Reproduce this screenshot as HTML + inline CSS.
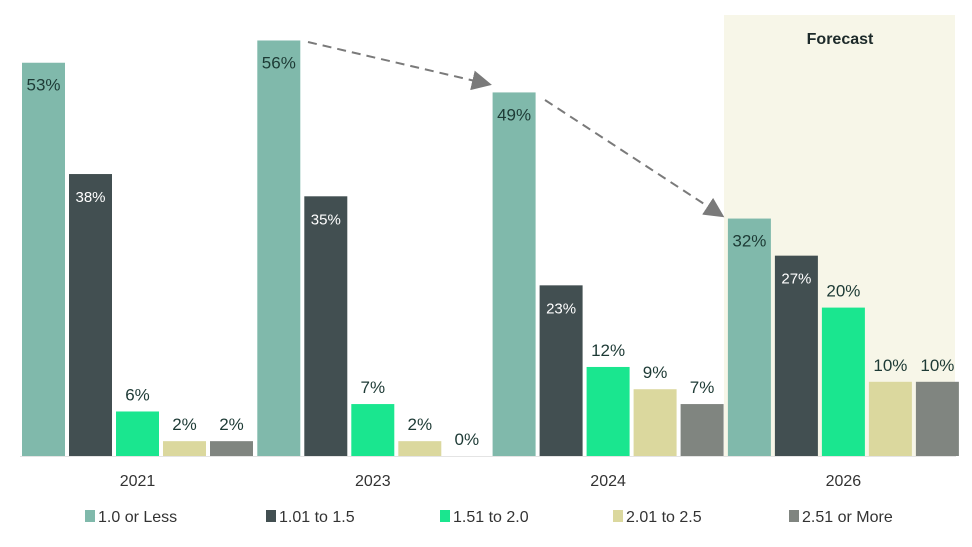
<!DOCTYPE html>
<html><head><meta charset="utf-8"><style>
body{margin:0;background:#fff;font-family:"Liberation Sans",sans-serif;}
svg text{font-family:"Liberation Sans",sans-serif;}
</style></head><body>
<svg id="chart" width="972" height="542" xmlns="http://www.w3.org/2000/svg">
<defs><marker id="ah" markerWidth="10" markerHeight="10" refX="8" refY="5" orient="auto"><path d="M0,0 L10,5 L0,10 z" fill="#7a7a7a"/></marker></defs>
<rect x="724" y="15" width="231" height="441" fill="#f7f6e8"/>
<text x="840" y="44" text-anchor="middle" font-size="16" font-weight="bold" fill="#1d2a2a">Forecast</text>
<line x1="20" y1="456.5" x2="956" y2="456.5" stroke="#e4e4e4" stroke-width="1"/>
<g id="bars"></g>
<line x1="308" y1="42" x2="488" y2="84" stroke="#7a7a7a" stroke-width="2" stroke-dasharray="9,6" marker-end="url(#ah)"/>
<line x1="545" y1="100" x2="721" y2="215" stroke="#7a7a7a" stroke-width="2" stroke-dasharray="9,6" marker-end="url(#ah)"/>
<g id="legend"></g>
</svg>
<script>
const categories=["2021","2023","2024","2026"];
const seriesNames=["1.0 or Less","1.01 to 1.5","1.51 to 2.0","2.01 to 2.5","2.51 or More"];
const s1=[53,56,49,32];
const s2=[38,35,23,27];
const s3=[6,7,12,20];
const s4=[2,2,9,10];
const s5=[2,0,7,10];
const series=[s1,s2,s3,s4,s5];
const colors=["#80b9ab","#424f51","#1ae68f","#dbd89e","#808580"];
const NS="http://www.w3.org/2000/svg";
const base=456, pxPer=7.42, x0=22, groupW=235.3, step=47, bw=43;
function y(v){return base-v*pxPer;}
function gx(i,j){return x0+i*groupW+j*step;}
const g=document.getElementById('bars');
function mk(t,a){const e=document.createElementNS(NS,t);for(const k in a)e.setAttribute(k,a[k]);return e;}
categories.forEach((c,i)=>{
  series.forEach((s,j)=>{
    const v=s[i];
    const r=mk('rect',{x:gx(i,j),y:y(v),width:bw,height:base-y(v),fill:colors[j]});
    
    
    g.appendChild(r);
    const inside=j<2;
    const t=mk('text',{x:gx(i,j)+bw/2,y:inside?y(v)+28:y(v)-11,'text-anchor':'middle','font-size':inside&&j==1?15:17,fill:j==1?'#ffffff':'#1d3a35'});
    t.textContent=v+'%';
    
    
    g.appendChild(t);
  });
  const lt=mk('text',{x:gx(i,2)+bw/2,y:486,'text-anchor':'middle','font-size':16,fill:'#333'});
  lt.textContent=c;
  
  
  g.appendChild(lt);
});
const lg=document.getElementById('legend');
const legX=[85,266,440,613,789];
seriesNames.forEach((n,j)=>{
  const sw=mk('rect',{x:legX[j],y:510,width:10,height:12,fill:colors[j]});
  
  
  lg.appendChild(sw);
  const t=mk('text',{x:legX[j]+13,y:522,'font-size':16,fill:'#333'});
  t.textContent=n;
  
  
  lg.appendChild(t);
});
</script>
</body></html>
